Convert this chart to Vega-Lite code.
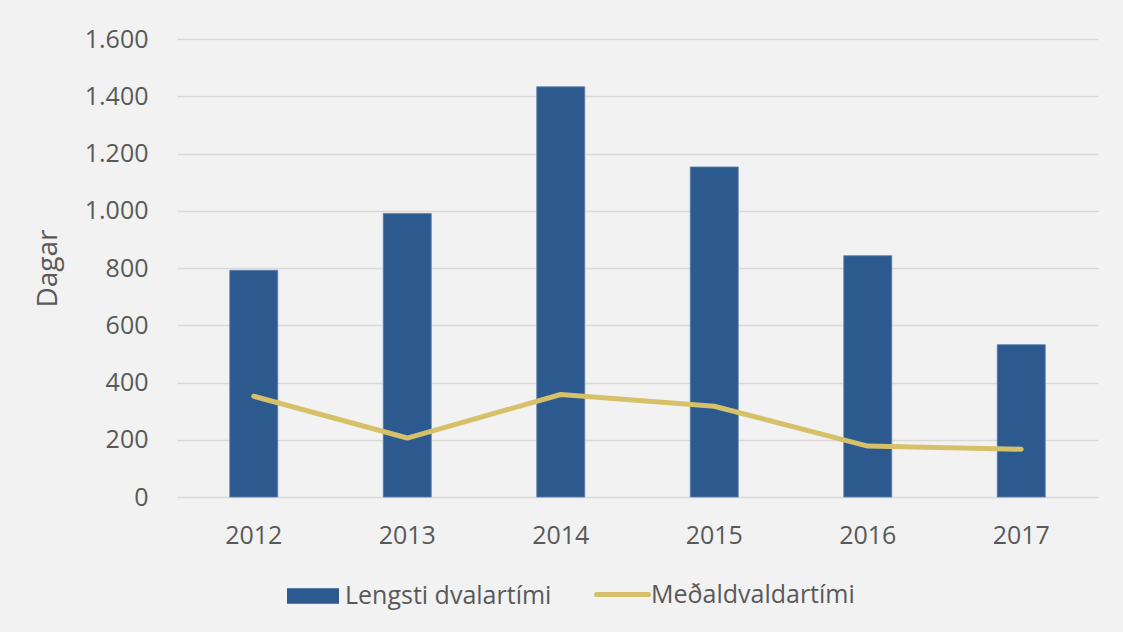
{
  "$schema": "https://vega.github.io/schema/vega-lite/v6.json",
  "width": 921,
  "height": 458,
  "autosize": {"type": "none"},
  "padding": {"left": 177, "top": 39, "right": 25, "bottom": 135},
  "background": "#f2f2f2",
  "config": {
    "view": {"stroke": null},
    "font": "Open Sans",
    "axis": {"labelFont": "Open Sans", "titleFont": "Open Sans", "labelColor": "#595959", "titleColor": "#595959", "labelFontSize": 25, "titleFontSize": 28, "titleFontWeight": "normal"},
    "legend": {"labelFont": "Open Sans", "labelFontSize": 25, "labelColor": "#595959", "labelLimit": 400}
  },
  "data": {
    "values": [
      {"year": "2012", "lengsti": 792, "medal": 352},
      {"year": "2013", "lengsti": 990, "medal": 206},
      {"year": "2014", "lengsti": 1433, "medal": 358},
      {"year": "2015", "lengsti": 1153, "medal": 317},
      {"year": "2016", "lengsti": 843, "medal": 178},
      {"year": "2017", "lengsti": 532, "medal": 167}
    ]
  },
  "encoding": {
    "x": {
      "field": "year", "type": "ordinal",
      "scale": {"paddingInner": 0, "paddingOuter": 0},
      "axis": {"title": null, "labelAngle": 0, "domain": false, "ticks": false, "labelPadding": 26}
    }
  },
  "layer": [
    {
      "mark": {"type": "bar", "size": 48, "stroke": "#5a7fab", "strokeWidth": 0.8},
      "encoding": {
        "y": {
          "field": "lengsti", "type": "quantitative",
          "scale": {"domain": [0, 1600]},
          "axis": {"title": "Dagar", "values": [0, 200, 400, 600, 800, 1000, 1200, 1400, 1600], "labelExpr": "replace(format(datum.value, ','), ',', '.')", "domain": false, "ticks": false, "labelPadding": 29, "titlePadding": 22, "grid": true, "gridColor": "#d9d9d9", "gridWidth": 1.5}
        },
        "fill": {
          "datum": "Lengsti dvalartími",
          "scale": {"domain": ["Lengsti dvalartími"], "range": ["#2c5a8f"]},
          "legend": {
            "title": null,
            "orient": "none",
            "legendX": 110,
            "legendY": 531,
            "padding": 0,
            "labelOffset": 6,
            "symbolSize": 2704,
            "symbolType": "M-1,-0.3H1V0.3H-1Z",
            "symbolStrokeWidth": 0,
            "symbolOpacity": 1
          }
        }
      }
    },
    {
      "mark": {"type": "line", "strokeWidth": 5, "strokeCap": "round", "strokeJoin": "round"},
      "encoding": {
        "y": {"field": "medal", "type": "quantitative"},
        "stroke": {
          "datum": "Meðaldvaldartími",
          "scale": {"domain": ["Meðaldvaldartími"], "range": ["#d6c16a"]},
          "legend": {
            "title": null,
            "orient": "none",
            "legendX": 417,
            "legendY": 527,
            "padding": 0,
            "labelOffset": 0,
            "symbolSize": 2704,
            "symbolType": "stroke",
            "symbolStrokeWidth": 5,
            "symbolOpacity": 1,
            "encode": {"symbols": {"update": {"strokeCap": {"value": "round"}}}}
          }
        }
      }
    }
  ]
}
